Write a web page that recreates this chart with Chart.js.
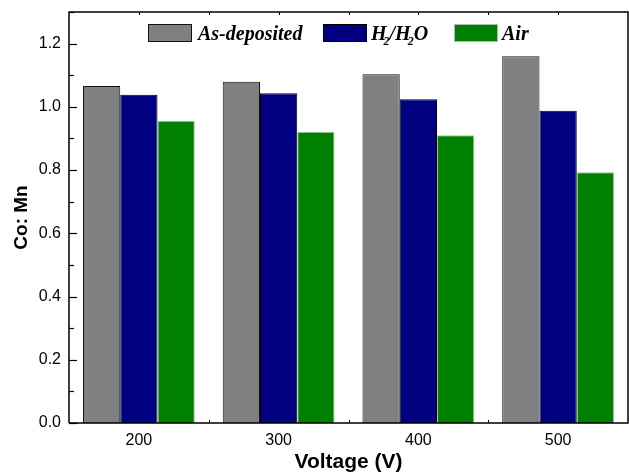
<!DOCTYPE html>
<html>
<head>
<meta charset="utf-8">
<script src="https://cdn.jsdelivr.net/npm/chart.js@4/dist/chart.umd.min.js"></script>
<style>
  html, body { margin: 0; padding: 0; background: #fff; }
  #wrap { width: 629px; height: 472px; position: relative; }
</style>
</head>
<body>
<div id="wrap"><canvas id="c" width="629" height="472"></canvas></div>
<script>
// Co:Mn ratio by deposition voltage and treatment
const categories = ['200', '300', '400', '500'];
const asDeposited = [1.066, 1.079, 1.103, 1.160];
const h2h2o = [1.038, 1.043, 1.024, 0.988];
const air = [0.956, 0.921, 0.910, 0.793];
const seriesLabels = ['As-deposited', 'H\u2082/H\u2082O', 'Air'];
const yTickValues = [0, 0.2, 0.4, 0.6, 0.8, 1.0, 1.2];

const FONT_SANS = '"Liberation Sans", Arial, sans-serif';
const FONT_SERIF = '"Liberation Serif", "Times New Roman", serif';

// frame, inward ticks and the in-plot legend
const framePlugin = {
  id: 'frame',
  afterDraw(chart) {
    const ctx = chart.ctx;
    const a = chart.chartArea;
    const xs = chart.scales.x;
    const ys = chart.scales.y;
    ctx.save();
    ctx.strokeStyle = '#000';
    ctx.lineWidth = 1.5;
    ctx.beginPath();
    ctx.moveTo(a.left, a.bottom);
    ctx.lineTo(a.left, a.top);
    ctx.lineTo(a.right, a.top);
    ctx.lineTo(a.right, a.bottom);
    ctx.lineTo(a.left, a.bottom);
    ctx.stroke();

    // y ticks (major + minor), pointing into the plot
    ctx.lineWidth = 1.2;
    for (let i = 0; i <= 13; i++) {
      const v = i / 10;
      const py = Math.round(ys.getPixelForValue(v)) + 0.5;
      const len = (i % 2 === 0) ? 8 : 5;
      ctx.beginPath();
      ctx.moveTo(a.left, py);
      ctx.lineTo(a.left + len, py);
      ctx.stroke();
    }
    // x ticks on bottom and top, at category centres and between them
    ctx.lineWidth = 1;
    const step = xs.getPixelForValue(1) - xs.getPixelForValue(0);
    for (let i = 0; i < categories.length; i++) {
      const c = xs.getPixelForValue(i);
      [c, c + step / 2].forEach(px => {
        if (px >= a.right - 1) return;
        const x = Math.round(px) + 0.5;
        ctx.beginPath();
        ctx.moveTo(x, a.bottom);
        ctx.lineTo(x, a.bottom - 3);
        ctx.moveTo(x, a.top);
        ctx.lineTo(x, a.top + 3);
        ctx.stroke();
      });
    }

    // legend
    const fontSize = 20;
    const boxW = 44, boxH = 18;
    const boxTop = a.top + 12;
    const baseY = boxTop + 16;
    const offsets = [79, 254, 385];
    chart.data.datasets.forEach((ds, i) => {
      let x = a.left + offsets[i];
      ctx.fillStyle = ds.backgroundColor;
      ctx.fillRect(x, boxTop, boxW, boxH);
      ctx.strokeStyle = ds.borderColor;
      ctx.lineWidth = 1;
      ctx.strokeRect(x + 0.5, boxTop + 0.5, boxW - 1, boxH - 1);
      x += boxW + (i === 0 ? 6 : 4);
      ctx.fillStyle = '#000';
      ctx.textBaseline = 'alphabetic';
      ctx.textAlign = 'left';
      const subs = { '\u2082': '2' };
      for (const ch of ds.label) {
        if (subs[ch]) {
          ctx.font = 'italic bold ' + Math.round(fontSize * 0.62) + 'px ' + FONT_SERIF;
          ctx.fillText(subs[ch], x - 3, baseY + 5);
          x += ctx.measureText(subs[ch]).width - 3;
        } else {
          ctx.font = 'italic bold ' + fontSize + 'px ' + FONT_SERIF;
          ctx.fillText(ch, x, baseY);
          x += ctx.measureText(ch).width;
        }
      }
    });
    ctx.restore();
  }
};

new Chart(document.getElementById('c'), {
  type: 'bar',
  data: {
    labels: categories,
    datasets: [
      { label: seriesLabels[0], data: asDeposited, backgroundColor: '#808080', borderColor: '#111', borderWidth: 1 },
      { label: seriesLabels[1], data: h2h2o, backgroundColor: '#000080', borderColor: '#000', borderWidth: 1 },
      { label: seriesLabels[2], data: air, backgroundColor: '#008000', borderColor: '#a6c2a6', borderWidth: 1 }
    ]
  },
  options: {
    responsive: false,
    animation: false,
    layout: { padding: { top: 12, right: 1, left: 0, bottom: 0 } },
    datasets: { bar: { categoryPercentage: 0.8, barPercentage: 1.0 } },
    plugins: {
      legend: { display: false },
      tooltip: { enabled: false }
    },
    scales: {
      x: {
        grid: { display: false, drawTicks: false },
        border: { display: false },
        ticks: { color: '#000', font: { family: FONT_SANS, size: 16 }, padding: 8 },
        title: {
          display: true, text: 'Voltage (V)', color: '#000',
          font: { family: FONT_SANS, size: 21, weight: 'bold' }, padding: { top: 0, bottom: -3 }
        },
        afterFit(scale) { scale.height = 49; scale.paddingLeft = 0; scale.paddingRight = 0; }
      },
      y: {
        min: 0, max: 1.3,
        grid: { display: false, drawTicks: false },
        border: { display: false },
        afterBuildTicks(scale) { scale.ticks = yTickValues.map(v => ({ value: v })); },
        ticks: {
          color: '#000', font: { family: FONT_SANS, size: 16 }, padding: 8,
          callback: v => Number(v).toFixed(1)
        },
        title: {
          display: true, text: 'Co: Mn', color: '#000',
          font: { family: FONT_SANS, size: 19, weight: 'bold' }, padding: { top: 10, bottom: 0 }
        },
        afterFit(scale) { scale.width = 69; scale.paddingTop = 0; scale.paddingBottom = 0; }
      }
    }
  },
  plugins: [framePlugin]
});
</script>
</body>
</html>
